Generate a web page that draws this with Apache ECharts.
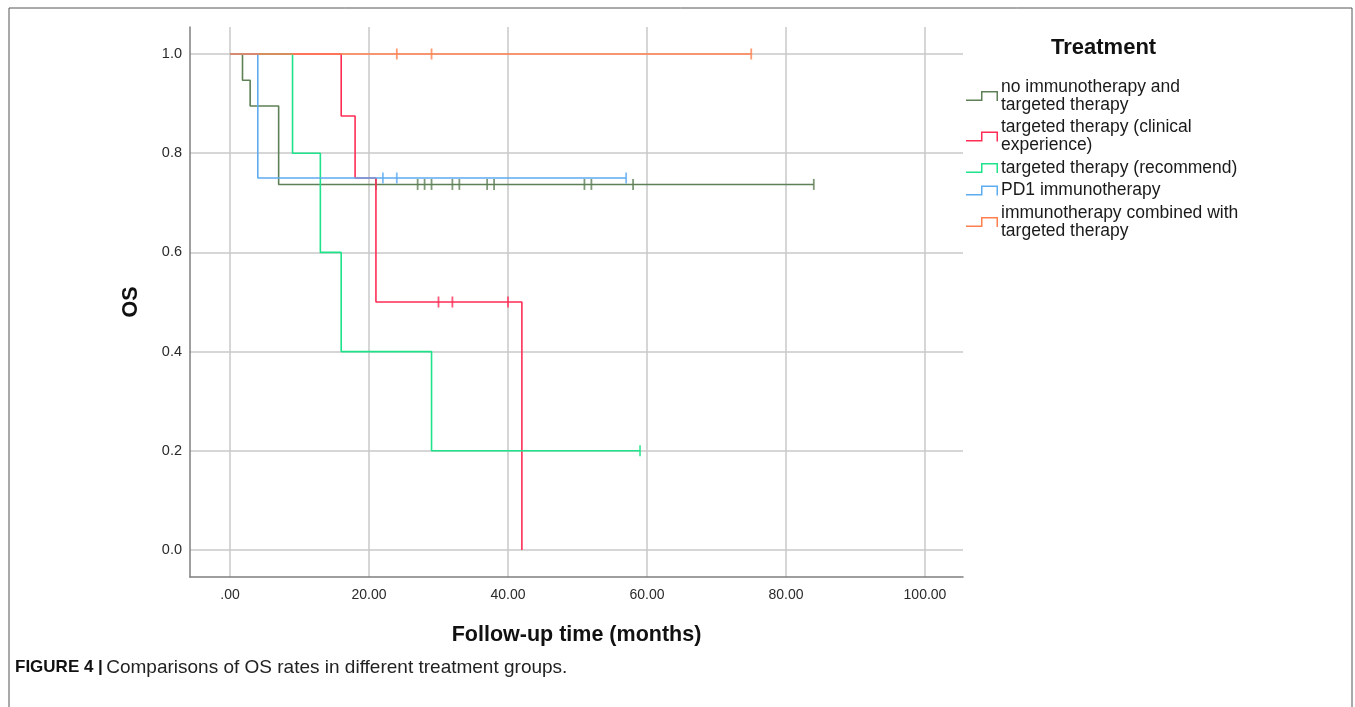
<!DOCTYPE html>
<html>
<head>
<meta charset="utf-8">
<script src="https://cdn.jsdelivr.net/npm/echarts@6/dist/echarts.min.js"></script>
<style>
html,body{margin:0;padding:0;background:#fff;}
#c{width:1355px;height:707px;}
</style>
</head>
<body>
<div id="c"></div>
<script>
// ---- data ----
const groupNames = [
  'no immunotherapy and\ntargeted therapy',
  'targeted therapy (clinical\nexperience)',
  'targeted therapy (recommend)',
  'PD1 immunotherapy',
  'immunotherapy combined with\ntargeted therapy'
];
const groupColors = ['#5e8056', '#ff2d55', '#1fe38a', '#5eabf0', '#ff7f4f'];

// step curves: [time, survival]
const curveNoImmuno   = [[0,1],[1.8,0.947],[2.9,0.895],[7,0.737],[84,0.737]];
const curveClinical   = [[0,1],[16,0.875],[18,0.75],[21,0.5],[42,0]];
const curveRecommend  = [[0,1],[9,0.8],[13,0.6],[16,0.4],[29,0.2],[59,0.2]];
const curvePD1        = [[0,1],[4,0.75],[57,0.75]];
const curveCombined   = [[0,1],[75,1]];

// censored observations: [time, survival]
const censNoImmuno  = [[21,0.737],[27,0.737],[28,0.737],[29,0.737],[32,0.737],[33,0.737],[37,0.737],[38,0.737],[51,0.737],[52,0.737],[58,0.737],[84,0.737]];
const censClinical  = [[30,0.5],[32,0.5],[40,0.5]];
const censRecommend = [[59,0.2]];
const censPD1       = [[22,0.75],[24,0.75],[57,0.75]];
const censCombined  = [[24,1],[29,1],[75,1]];

const xTicks = [0,20,40,60,80,100];
const yTicks = [0,0.2,0.4,0.6,0.8,1.0];

const curves = [curveNoImmuno, curveClinical, curveRecommend, curvePD1, curveCombined];
const censors = [censNoImmuno, censClinical, censRecommend, censPD1, censCombined];

// ---- chart ----
const chart = echarts.init(document.getElementById('c'), null, {renderer:'canvas'});
const stepIcon = 'path://M0,8.5 L15,8.5 L15,0 L32,0 L32,10 L30.5,10 L30.5,1.5 L16.5,1.5 L16.5,10 L0,10 Z';

const series = [];
curves.forEach((d, i) => {
  series.push({
    name: groupNames[i], type: 'line', step: 'end', data: d,
    symbol: 'none', lineStyle: {width: 1.6, color: groupColors[i]},
    itemStyle: {color: groupColors[i]}, silent: true, z: 2 + i
  });
});
censors.forEach((d, i) => {
  series.push({
    name: groupNames[i], type: 'scatter', data: d,
    symbol: 'rect', symbolSize: [1.8, 11],
    itemStyle: {color: groupColors[i]}, silent: true, z: 2 + i
  });
});

const option = {
  backgroundColor: '#fff',
  animation: false,
  grid: {left: 190, top: 27, right: 392, bottom: 130, containLabel: false},
  xAxis: {
    type: 'value', min: -5.755, max: 105.47,
    name: 'Follow-up time (months)', nameLocation: 'middle', nameGap: 47,
    nameTextStyle: {fontFamily: 'Liberation Sans', fontWeight: 'bold', fontSize: 21.5, color: '#111'},
    axisLine: {show: true, onZero: false, lineStyle: {color: '#7f7f7f', width: 1.5}},
    axisTick: {show: false, customValues: xTicks},
    axisLabel: {customValues: xTicks, margin: 11, fontFamily: 'Liberation Sans', fontSize: 14, color: '#2a2a2a',
      formatter: v => v === 0 ? '.00' : v.toFixed(2)},
    splitLine: {show: true, lineStyle: {color: '#c8c8c8', width: 1.5}}
  },
  yAxis: {
    type: 'value', min: -0.0544, max: 1.0544,
    name: 'OS', nameLocation: 'middle', nameGap: 48, nameRotate: 90,
    nameTextStyle: {fontFamily: 'Liberation Sans', fontWeight: 'bold', fontSize: 21.5, color: '#111'},
    axisLine: {show: true, onZero: false, lineStyle: {color: '#7f7f7f', width: 1.5}},
    axisTick: {show: false, customValues: yTicks},
    axisLabel: {customValues: yTicks, margin: 8, fontFamily: 'Liberation Sans', fontSize: 14.5, color: '#2a2a2a',
      formatter: v => v.toFixed(1)},
    splitLine: {show: true, lineStyle: {color: '#c8c8c8', width: 1.5}}
  },
  legend: {
    orient: 'vertical', left: 961, top: 73,
    itemWidth: 32, itemHeight: 10, itemGap: 4.5,
    data: groupNames.map(n => ({name: n, icon: stepIcon})),
    textStyle: {fontFamily: 'Liberation Sans', fontSize: 17.5, color: '#1a1a1a', lineHeight: 18, padding: [0,0,0,-2]},
    selectedMode: false
  },
  graphic: [
    {type: 'rect', shape: {x: 9, y: 8, width: 1343, height: 720},
      style: {fill: 'none', stroke: '#555', lineWidth: 1}, silent: true},
    {type: 'text', left: 1051, top: 37,
      style: {text: 'Treatment', fontFamily: 'Liberation Sans', fontWeight: 'bold', fontSize: 22, fill: '#111'}},
    {type: 'text', left: 15, top: 658,
      style: {
        text: '{b|FIGURE 4 |} {n|Comparisons of OS rates in different treatment groups.}',
        rich: {
          b: {fontFamily: 'Liberation Sans', fontWeight: 'bold', fontSize: 17, fill: '#111'},
          n: {fontFamily: 'Liberation Sans', fontSize: 19, fill: '#222'}
        }
      }}
  ],
  series: series
};
chart.setOption(option);
</script>
</body>
</html>
